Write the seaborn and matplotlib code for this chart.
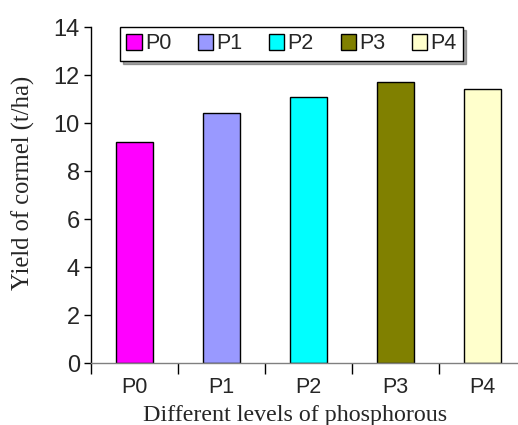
import matplotlib
matplotlib.use("Agg")
import matplotlib.pyplot as plt
import seaborn as sns
import pandas as pd
from matplotlib.patches import Patch

categories = ["P0", "P1", "P2", "P3", "P4"]
yield_values = [9.2, 10.4, 11.1, 11.7, 11.4]
colors = ["#FF00FF", "#9999FF", "#00FFFF", "#808000", "#FFFFCC"]
yticks = [0, 2, 4, 6, 8, 10, 12, 14]

sns.set_style("white")
plt.rcParams["font.family"] = ["Liberation Sans", "DejaVu Sans"]

df = pd.DataFrame({"level": categories, "yield": yield_values})

fig = plt.figure(figsize=(5.18, 4.25), dpi=100)
ax = fig.add_axes([91/518, 1-363/425, 435/518, 336/425])

sns.barplot(data=df, x="level", y="yield", hue="level", palette=colors,
            order=categories, hue_order=categories, width=0.42, saturation=1,
            edgecolor="black", linewidth=1.0, legend=False, ax=ax)

ax.set_xlim(-0.5, 4.5)
ax.set_ylim(0, 14)
ax.set_yticks(yticks)
ax.set_yticklabels([str(t) for t in yticks], fontsize=17)
ax.set_xticks(range(len(categories)))
ax.set_xticklabels(categories, fontsize=15.5)
ax.tick_params(axis="x", length=0, pad=10)
ax.tick_params(axis="y", direction="out", length=5, width=1, color="black", pad=3, left=True)
ax.set_xticks([i - 0.5 for i in range(len(categories) + 1)], minor=True)
ax.tick_params(axis="x", which="minor", direction="out", length=8, width=1, color="black", bottom=True)

for s in ["top", "right"]:
    ax.spines[s].set_visible(False)
ax.spines["left"].set_color("black")
ax.spines["left"].set_linewidth(1)
ax.spines["bottom"].set_color("#808080")
ax.spines["bottom"].set_linewidth(1)

ax.set_ylabel("Yield of cormel (t/ha)", fontsize=17.7, family=["Liberation Serif"])
ax.set_xlabel("Different levels of phosphorous", fontsize=17.3, family=["Liberation Serif"])
ax.yaxis.set_label_coords(-0.129, 0.536)
ax.xaxis.set_label_coords(0.469, -0.125)

handles = [Patch(facecolor=c, edgecolor="black", linewidth=1) for c in colors]
leg = ax.legend(handles, categories, loc="upper left", bbox_to_anchor=(29/435, 1.0),
                ncol=5, fontsize=15.5, frameon=True, fancybox=False, shadow=True,
                handlelength=0.7, handleheight=0.75, handletextpad=0.15,
                columnspacing=1.25, borderpad=0.3, borderaxespad=0)
leg.get_frame().set_edgecolor("black")
leg.get_frame().set_linewidth(1)

fig.savefig("out.png", dpi=100)
